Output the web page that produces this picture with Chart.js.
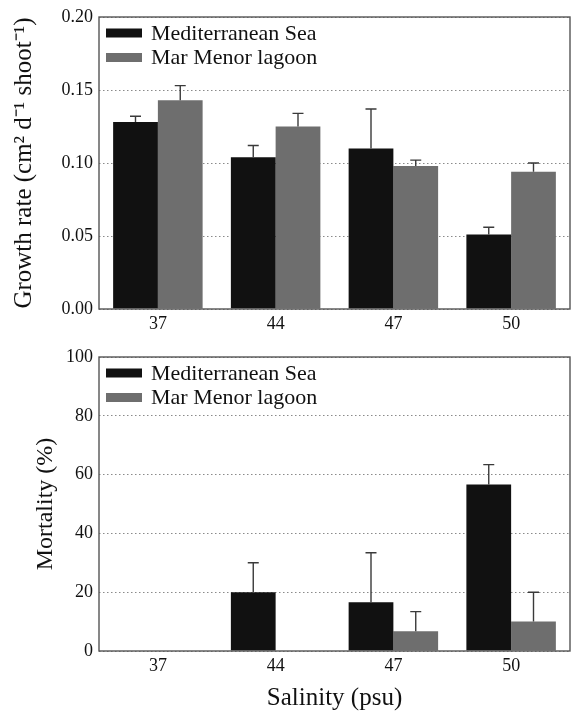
<!DOCTYPE html>
<html lang="en">
<head>
    <meta charset="UTF-8">
    <title>Growth rate and mortality vs salinity</title>
    <script src="https://cdn.jsdelivr.net/npm/chart.js"></script>
    <style>
        body {
            margin: 0;
            padding: 0;
            background: white;
        }
        #wrap {
            position: relative;
            width: 576px;
            height: 711px;
        }
        #wrap canvas {
            position: absolute;
            left: 0;
        }
        #growthChart { top: 0; }
        #mortalityChart { top: 340px; }
    </style>
</head>
<body>
    <div id="wrap">
        <canvas id="growthChart" width="576" height="340"></canvas>
        <canvas id="mortalityChart" width="576" height="371"></canvas>
    </div>

    <script>
        // values
        const salinity = ['37', '44', '47', '50'];
        const seriesNames = ['Mediterranean Sea', 'Mar Menor lagoon'];

        const growthMed = [0.128, 0.104, 0.110, 0.051];
        const growthMedErr = [0.004, 0.008, 0.027, 0.005];
        const growthLag = [0.143, 0.125, 0.098, 0.094];
        const growthLagErr = [0.010, 0.009, 0.004, 0.006];

        const mortMed = [0, 20, 16.6, 56.6];
        const mortMedErr = [0, 10, 16.8, 6.8];
        const mortLag = [0, 0, 6.7, 10];
        const mortLagErr = [0, 0, 6.7, 10];

        const FONT = 'Liberation Serif';
        const BLACK = '#111111';
        const GREY = '#6e6e6e';

        // error bars (upper side only, with a cap)
        const errorBars = {
            id: 'errorBars',
            afterDatasetsDraw(chart) {
                const ctx = chart.ctx;
                const y = chart.scales.y;
                ctx.save();
                ctx.strokeStyle = '#3a3a3a';
                ctx.lineWidth = 1.4;
                chart.data.datasets.forEach((ds, i) => {
                    const meta = chart.getDatasetMeta(i);
                    meta.data.forEach((bar, j) => {
                        const err = ds.errors[j];
                        if (!err) return;
                        const top = y.getPixelForValue(ds.data[j] + err);
                        const base = y.getPixelForValue(ds.data[j]);
                        ctx.beginPath();
                        ctx.moveTo(bar.x, base);
                        ctx.lineTo(bar.x, top);
                        ctx.moveTo(bar.x - 5.5, top);
                        ctx.lineTo(bar.x + 5.5, top);
                        ctx.stroke();
                    });
                });
                ctx.restore();
            }
        };

        // box around the plot and the legend inside top-left
        const frameAndLegend = {
            id: 'frameAndLegend',
            afterDraw(chart) {
                const ctx = chart.ctx;
                const a = chart.chartArea;
                ctx.save();
                ctx.strokeStyle = '#555';
                ctx.lineWidth = 1.4;
                ctx.strokeRect(a.left, a.top, a.right - a.left, a.bottom - a.top);

                ctx.font = '22px "' + FONT + '"';
                ctx.textBaseline = 'middle';
                chart.data.datasets.forEach((ds, i) => {
                    const cy = a.top + 16 + i * 24.5;
                    ctx.fillStyle = ds.backgroundColor;
                    ctx.fillRect(a.left + 7, cy - 4.5, 36, 9);
                    ctx.fillStyle = '#111';
                    ctx.fillText(ds.label, a.left + 52, cy + 1);
                });
                ctx.restore();
            }
        };

        function makeChart(canvasId, med, medErr, lag, lagErr, yOpts) {
            return new Chart(document.getElementById(canvasId), {
                type: 'bar',
                data: {
                    labels: salinity,
                    datasets: [
                        { label: seriesNames[0], data: med, errors: medErr, backgroundColor: BLACK },
                        { label: seriesNames[1], data: lag, errors: lagErr, backgroundColor: GREY }
                    ]
                },
                options: {
                    responsive: false,
                    animation: false,
                    layout: { padding: { top: 17, right: 6, left: 0, bottom: 0 } },
                    datasets: {
                        bar: { categoryPercentage: 0.76, barPercentage: 1.0 }
                    },
                    plugins: {
                        legend: { display: false },
                        tooltip: { enabled: false }
                    },
                    scales: {
                        x: {
                            grid: { display: false, drawTicks: false },
                            border: { display: false },
                            ticks: {
                                padding: 4,
                                color: '#111',
                                font: { family: FONT, size: 18 }
                            },
                            title: yOpts.xTitle ? {
                                display: true,
                                text: yOpts.xTitle,
                                color: '#111',
                                font: { family: FONT, size: 25, lineHeight: 1 },
                                padding: { top: 0, bottom: 0 }
                            } : { display: false },
                            afterFit(scale) { scale.height = yOpts.xHeight; }
                        },
                        y: {
                            min: yOpts.min,
                            max: yOpts.max,
                            ticks: {
                                stepSize: yOpts.step,
                                padding: 6,
                                color: '#111',
                                font: { family: FONT, size: 18 },
                                callback: yOpts.format
                            },
                            grid: {
                                drawTicks: false,
                                color: '#8a8a8a',
                                lineWidth: 1
                            },
                            border: { display: false, dash: [1.5, 2.5] },
                            title: {
                                display: true,
                                text: yOpts.title,
                                color: '#111',
                                font: { family: FONT, size: yOpts.titleSize, lineHeight: 1 },
                                padding: { top: yOpts.titlePad, bottom: 0 }
                            },
                            afterFit(scale) { scale.width = 99; }
                        }
                    }
                },
                plugins: [errorBars, frameAndLegend]
            });
        }

        makeChart('growthChart', growthMed, growthMedErr, growthLag, growthLagErr, {
            min: 0, max: 0.2, step: 0.05,
            format: v => v.toFixed(2),
            title: 'Growth rate (cm\u00B2 d\u207B\u00B9 shoot\u207B\u00B9)',
            titleSize: 25, titlePad: 12,
            xHeight: 31
        });

        makeChart('mortalityChart', mortMed, mortMedErr, mortLag, mortLagErr, {
            min: 0, max: 100, step: 20,
            format: v => v,
            title: 'Mortality (%)',
            titleSize: 24, titlePad: 34,
            xHeight: 60,
            xTitle: 'Salinity (psu)'
        });
    </script>
</body>
</html>
